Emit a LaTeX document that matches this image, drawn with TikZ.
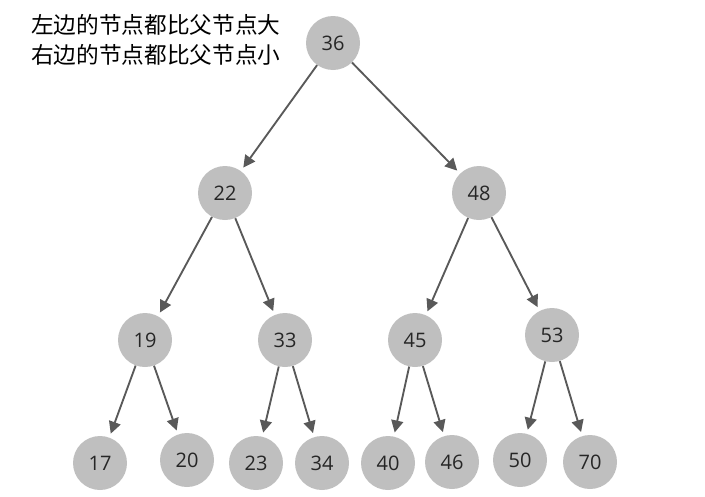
\documentclass[tikz,border=0pt]{standalone}
\usepackage{fontspec}
\setmainfont{Open Sans}
\newfontfamily\cjk{Noto Sans CJK SC}
\usetikzlibrary{arrows.meta}
\definecolor{nodegray}{HTML}{BFBFBF}
\definecolor{edgegray}{HTML}{595959}
\tikzset{
  treenode/.style={circle,fill=nodegray,minimum size=40.5pt,inner sep=0pt,font=\fontsize{15}{15}\selectfont,text=black!85},
  treeedge/.style={draw=edgegray,line width=1.4pt,-{Triangle[length=9pt,width=9pt]},shorten >=3pt}
}
\begin{document}
\begin{tikzpicture}[x=0.75pt,y=0.75pt,yscale=-1,xscale=1]
\useasboundingbox (0,0) rectangle (705,496);

% Text Node
\node [anchor=west,inner sep=0pt,align=left,font=\cjk\fontsize{17}{22.5}\selectfont] (note) at (31,40) {左边的节点都比父节点大\\右边的节点都比父节点小};

% Nodes
\node [treenode] (n36) at (333,43) {36};
\node [treenode] (n22) at (225,193) {22};
\node [treenode] (n48) at (479,193) {48};
\node [treenode] (n19) at (145,340) {19};
\node [treenode] (n33) at (285,340) {33};
\node [treenode] (n45) at (415,340) {45};
\node [treenode] (n53) at (552,335) {53};
\node [treenode] (n17) at (100,463) {17};
\node [treenode] (n20) at (187,460) {20};
\node [treenode] (n23) at (256,463) {23};
\node [treenode] (n34) at (322,463) {34};
\node [treenode] (n40) at (388,463) {40};
\node [treenode] (n46) at (452,462) {46};
\node [treenode] (n50) at (520,460) {50};
\node [treenode] (n70) at (590,462) {70};

% Edges
\foreach \a/\b in {n36/n22,n36/n48,n22/n19,n22/n33,n48/n45,n48/n53,
  n19/n17,n19/n20,n33/n23,n33/n34,n45/n40,n45/n46,n53/n50,n53/n70}
  \draw [treeedge] (\a) -- (\b);

\end{tikzpicture}
\end{document}
